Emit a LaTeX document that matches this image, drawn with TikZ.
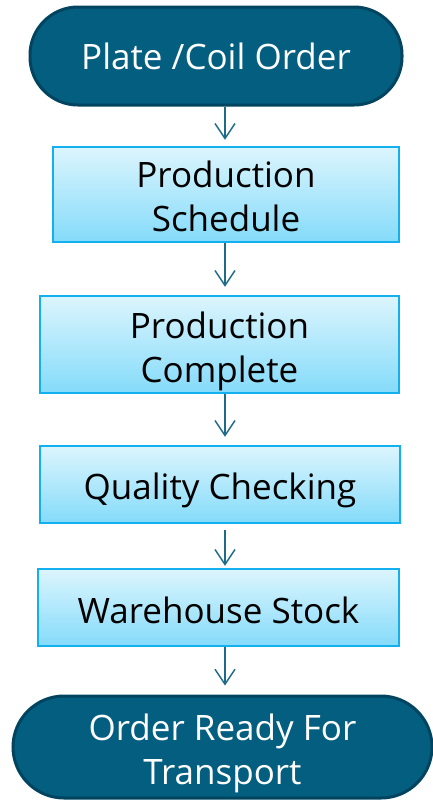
\documentclass[tikz,border=0pt]{standalone}
\usepackage{fontspec}
\setmainfont{Open Sans}
\usetikzlibrary{arrows.meta}
\definecolor{termfill}{HTML}{035E80}
\definecolor{termline}{HTML}{00445F}
\definecolor{boxline}{HTML}{12B0EE}
\definecolor{boxtop}{HTML}{DCF5FD}
\definecolor{boxbot}{HTML}{84DBFA}
\definecolor{flow}{HTML}{1D6A89}
\newcommand\dropline[1]{\rule{0pt}{#1}}
\tikzset{
  term/.style={draw=termline, line width=3pt, fill=termfill, rounded corners=48pt,
    text=white, align=center, inner sep=0pt, font=\fontsize{35}{44}\selectfont},
  stepbox/.style={draw=boxline, line width=2.5pt, top color=boxtop, bottom color=boxbot,
    align=center, inner sep=0pt, font=\fontsize{35}{44}\selectfont},
  flowarrow/.style={draw=flow, line width=1.4pt, -{Straight Barb[length=15pt,width=20pt,line width=1.4pt]}}
}
\begin{document}
\begin{tikzpicture}[x=1pt,y=-1pt]
\useasboundingbox (0,0) rectangle (433,801);
\coordinate (spine) at (225,0);
\node[term, minimum width=372pt, minimum height=98pt] (order) at (216,56) {Plate /Coil Order};
\node[stepbox, minimum width=346pt, minimum height=95pt] (sched) at (226,194.5) {\dropline{30pt}Production\\Schedule};
\node[stepbox, minimum width=359pt, minimum height=97pt] (done) at (219.5,344.5) {\dropline{41pt}Production\\Complete};
\node[stepbox, minimum width=360pt, minimum height=77pt] (check) at (220,484.5) {\dropline{39pt}Quality Checking};
\node[stepbox, minimum width=361pt, minimum height=77pt] (stock) at (218.5,607.5) {\dropline{33pt}Warehouse Stock};
\node[term, rounded corners=51pt, minimum width=419pt, minimum height=102pt] (ready) at (222.5,747) {\dropline{40pt}Order Ready For\\Transport};

\path[flowarrow, shorten >=6pt] (order.south -| spine) -- (sched.north -| spine);
\path[flowarrow, shorten >=8pt] (sched.south -| spine) -- (done.north -| spine);
\path[flowarrow, shorten >=8pt] (done.south -| spine) -- (check.north -| spine);
\path[flowarrow, shorten <=6pt, shorten >=2pt] (check.south -| spine) -- (stock.north -| spine);
\path[flowarrow, shorten >=9pt] (stock.south -| spine) -- (ready.north -| spine);
\end{tikzpicture}
\end{document}
